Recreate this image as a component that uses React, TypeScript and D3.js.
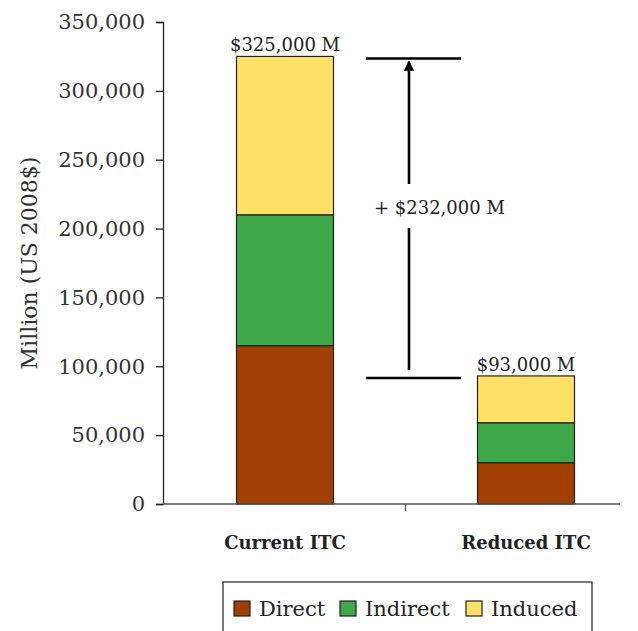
import { useEffect, useRef } from 'react'
import * as d3 from 'd3'

const categories = ['Current ITC', 'Reduced ITC']
const seriesNames = ['Direct', 'Indirect', 'Induced']
const direct = [115000, 30000]
const indirect = [95000, 29000]
const induced = [115000, 34000]
const totalLabels = ['$325,000 M', '$93,000 M']
const yTicks = [0, 50000, 100000, 150000, 200000, 250000, 300000, 350000]
const diffLabel = '+ $232,000 M'

const colors = ['#a03f00', '#3ea747', '#ffe066']
const font = '"DejaVu Serif", "Liberation Serif", serif'

export default function App() {
  const ref = useRef<SVGSVGElement | null>(null)

  useEffect(() => {
    if (!ref.current) return
    const svg = d3.select(ref.current)
    svg.selectAll('*').remove()

    const width = 638
    const height = 631
    const left = 163
    const right = 620
    const bottom = 504
    const top = 22

    const y = d3.scaleLinear().domain([0, 350000]).range([bottom, top])
    const x = d3.scalePoint<string>().domain(categories).range([285, 526])
    const barW = 97

    const rows = categories.map((c, i) => ({
      cat: c,
      Direct: direct[i],
      Indirect: indirect[i],
      Induced: induced[i]
    }))
    const stack = d3.stack<any>().keys(seriesNames)(rows)

    // bars
    stack.forEach((layer, li) => {
      svg.append('g')
        .selectAll('rect')
        .data(layer)
        .enter()
        .append('rect')
        .attr('x', d => x(d.data.cat)! - barW / 2)
        .attr('width', barW)
        .attr('y', d => y(d[1]))
        .attr('height', d => y(d[0]) - y(d[1]))
        .attr('fill', colors[li])
        .attr('stroke', '#222')
        .attr('stroke-width', 1.2)
    })

    // y axis
    const yAxis = svg.append('g')
      .attr('transform', `translate(${left},0)`)
      .call(d3.axisLeft(y).tickValues(yTicks).tickSize(7).tickPadding(11).tickFormat(d3.format(',')))
    yAxis.select('.domain').attr('stroke', '#222').attr('stroke-width', 1.3)
    yAxis.selectAll('.tick line').attr('stroke', '#222').attr('stroke-width', 1.3)
    yAxis.selectAll('.tick text')
      .attr('fill', '#333')
      .style('font-family', font)
      .style('font-size', '21px')

    // x axis
    svg.append('line')
      .attr('x1', left).attr('x2', right)
      .attr('y1', bottom).attr('y2', bottom)
      .attr('stroke', '#555').attr('stroke-width', 1.3)
    const mid = (x(categories[0])! + x(categories[1])!) / 2
    svg.append('line')
      .attr('x1', mid).attr('x2', mid)
      .attr('y1', bottom).attr('y2', bottom + 7)
      .attr('stroke', '#555').attr('stroke-width', 1.3)

    svg.append('g')
      .selectAll('text')
      .data(categories)
      .enter()
      .append('text')
      .attr('x', d => x(d)!)
      .attr('y', 549)
      .attr('text-anchor', 'middle')
      .style('font-family', font)
      .style('font-size', '18px')
      .style('font-weight', 'bold')
      .attr('fill', '#222')
      .text(d => d)

    // y title
    svg.append('text')
      .attr('transform', `translate(37,${(top + bottom) / 2}) rotate(-90)`)
      .attr('text-anchor', 'middle')
      .style('font-family', font)
      .style('font-size', '22px')
      .attr('fill', '#333')
      .text('Million (US 2008$)')

    // total labels
    const totals = categories.map((_, i) => direct[i] + indirect[i] + induced[i])
    svg.append('g')
      .selectAll('text')
      .data(categories)
      .enter()
      .append('text')
      .attr('x', d => x(d)!)
      .attr('y', (_, i) => y(totals[i]) - 5)
      .attr('text-anchor', 'middle')
      .style('font-family', font)
      .style('font-size', '18px')
      .attr('fill', '#222')
      .text((_, i) => totalLabels[i])

    // difference annotation
    const ax = 409
    const yHi = y(totals[0]) + 2
    const yLo = y(totals[1]) + 2
    svg.append('defs').append('marker')
      .attr('id', 'arrow')
      .attr('viewBox', '0 0 10 10')
      .attr('refX', 9).attr('refY', 5)
      .attr('markerWidth', 4).attr('markerHeight', 4)
      .attr('orient', 'auto')
      .append('path')
      .attr('d', 'M0,0L10,5L0,10Z')
      .attr('fill', '#000')
    ;[yHi, yLo].forEach(yy => {
      svg.append('line')
        .attr('x1', 366).attr('x2', 461)
        .attr('y1', yy).attr('y2', yy)
        .attr('stroke', '#000').attr('stroke-width', 2.6)
    })
    svg.append('line')
      .attr('x1', ax).attr('x2', ax)
      .attr('y1', 184).attr('y2', yHi + 3)
      .attr('stroke', '#000').attr('stroke-width', 2.6)
      .attr('marker-end', 'url(#arrow)')
    svg.append('line')
      .attr('x1', ax).attr('x2', ax)
      .attr('y1', 228).attr('y2', yLo - 8)
      .attr('stroke', '#000').attr('stroke-width', 2.6)
    svg.append('text')
      .attr('x', 374)
      .attr('y', 214)
      .style('font-family', font)
      .style('font-size', '18px')
      .attr('fill', '#222')
      .text(diffLabel)

    // legend
    svg.append('rect')
      .attr('x', 223).attr('y', 582)
      .attr('width', 369).attr('height', 60)
      .attr('fill', 'none')
      .attr('stroke', '#222').attr('stroke-width', 1.2)
    const legendX = [234, 340, 466]
    seriesNames.forEach((s, i) => {
      const g = svg.append('g').attr('transform', `translate(${legendX[i]},0)`)
      g.append('rect')
        .attr('x', 0).attr('y', 601)
        .attr('width', 16).attr('height', 15)
        .attr('fill', colors[i])
        .attr('stroke', '#222').attr('stroke-width', 1.2)
      g.append('text')
        .attr('x', 25).attr('y', 616)
        .style('font-family', font)
        .style('font-size', '21px')
        .attr('fill', '#222')
        .text(s)
    })

    svg.attr('width', width).attr('height', height)
  }, [])

  return (
    <svg
      ref={ref}
      style={{ position: 'absolute', left: 0, top: 0, background: '#fff' }}
    ></svg>
  )
}
